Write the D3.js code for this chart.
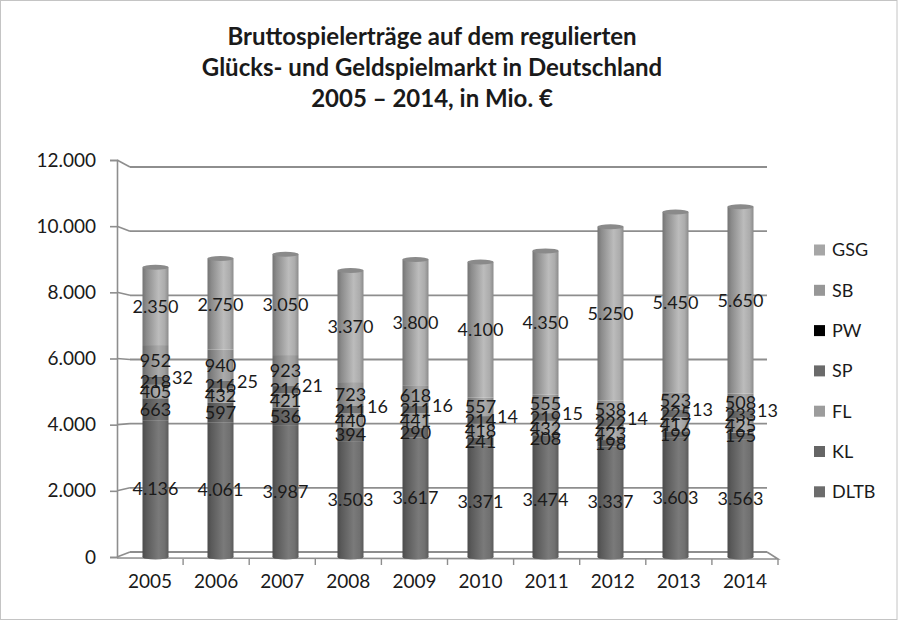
<!DOCTYPE html>
<html>
<head>
<meta charset="utf-8">
<script src="https://cdn.jsdelivr.net/npm/d3@7"></script>
<style>
  html, body { margin: 0; padding: 0; background: #fff; }
  svg { display: block; }
  text { font-family: Lato, "Open Sans", sans-serif; fill: #1a1a1a; }
</style>
</head>
<body>
<svg id="chart" width="903" height="621"></svg>
<script>
const years = ["2005","2006","2007","2008","2009","2010","2011","2012","2013","2014"];
// stacked from bottom to top
const seriesNames = ["DLTB","KL","FL","SP","PW","SB","GSG"];
const DLTB = [4136, 4061, 3987, 3503, 3617, 3371, 3474, 3337, 3603, 3563];
const KL   = [663, 597, 536, 394, 290, 241, 208, 198, 199, 195];
const FL   = [405, 432, 421, 440, 441, 418, 432, 423, 417, 425];
const SP   = [218, 216, 216, 211, 211, 214, 219, 222, 225, 233];
const PW   = [32, 25, 21, 16, 16, 14, 15, 14, 13, 13];
const SB   = [952, 940, 923, 723, 618, 557, 555, 538, 523, 508];
const GSG  = [2350, 2750, 3050, 3370, 3800, 4100, 4350, 5250, 5450, 5650];
const yTicks = [0, 2000, 4000, 6000, 8000, 10000, 12000];
const titleLines = ["Bruttospielerträge auf dem regulierten",
                    "Glücks- und Geldspielmarkt in Deutschland",
                    "2005 – 2014, in Mio. €"];
const legendOrder = ["GSG","SB","PW","SP","FL","KL","DLTB"];

const seriesValues = {DLTB, KL, FL, SP, PW, SB, GSG};
const colors = {GSG:"#a6a6a6", SB:"#979797", PW:"#000000", SP:"#6a6a6a", FL:"#9c9c9c", KL:"#656565", DLTB:"#6c6c6c"};

const de = d3.formatLocale({decimal: ",", thousands: ".", grouping: [3], currency: ["", "€"]});
const fmt = de.format(",d");

const svg = d3.select("#chart");

// frame
svg.append("rect").attr("x", 0.5).attr("y", 0.5).attr("width", 896.5).attr("height", 619)
  .attr("fill", "#fff").attr("stroke", "#c4c4c4").attr("stroke-width", 1);

// title
svg.append("g").selectAll("text").data(titleLines).join("text")
  .attr("x", 432).attr("y", (d, i) => 45 + i * 31)
  .attr("text-anchor", "middle")
  .style("font-size", "24px").style("font-weight", "bold")
  .text(d => d);

// scales
const yA = d3.scaleLinear().domain([0, 12000]).range([557, 160]);   // front axis
const yB = d3.scaleLinear().domain([0, 12000]).range([552, 167]);   // back wall
const xBar = d3.scaleBand().domain(years).range([123, 773]);
const xFront = d3.scaleBand().domain(years).range([117, 778]);
const barW = xBar.bandwidth() * 0.4;

const gridColor = "#8e8e8e";
const grid = svg.append("g");
// back wall gridlines & side wall diagonals
yTicks.forEach(v => {
  grid.append("line").attr("x1", 130).attr("x2", 767).attr("y1", yB(v)).attr("y2", yB(v))
    .attr("stroke", gridColor).attr("stroke-width", 1.8);
  grid.append("line").attr("x1", 117).attr("x2", 130).attr("y1", yA(v)).attr("y2", yB(v))
    .attr("stroke", gridColor).attr("stroke-width", 1.6);
});
// floor
grid.append("path")
  .attr("d", `M117,${yA(0)+1} L778,${yA(0)+2} L767,${yB(0)}`)
  .attr("fill", "none").attr("stroke", gridColor).attr("stroke-width", 1.6);

// y axis
const yAxis = d3.axisLeft(yA).tickValues(yTicks).tickSize(7).tickPadding(14)
  .tickFormat(d => fmt(d));
const gy = svg.append("g").attr("transform", "translate(117,0)").call(yAxis);
gy.select(".domain").attr("stroke", gridColor).attr("stroke-width", 1.6);
gy.selectAll(".tick line").attr("stroke", gridColor).attr("stroke-width", 1.6);
gy.selectAll(".tick text").style("font-size", "19px").style("font-family", "Lato, sans-serif").attr("fill", "#1a1a1a");

// x axis
const xAxis = d3.axisBottom(xFront).tickSize(0).tickPadding(16);
const gx = svg.append("g").attr("transform", `translate(0,${yA(0)+2})`).call(xAxis);
gx.select(".domain").remove();
gx.selectAll(".tick text").style("font-size", "19px").style("font-family", "Lato, sans-serif").attr("fill", "#1a1a1a");
// category boundary ticks
svg.append("g").selectAll("line").data(years.slice(1).concat(["end"])).join("line")
  .attr("x1", d => d === "end" ? 778 : xFront(d)).attr("x2", d => d === "end" ? 778 : xFront(d))
  .attr("y1", yA(0) + 2).attr("y2", yA(0) + 8)
  .attr("stroke", gridColor).attr("stroke-width", 1.4);

// gradients
const defs = svg.append("defs");
seriesNames.forEach(s => {
  const c = d3.color(colors[s]);
  const g = defs.append("linearGradient").attr("id", "g-" + s)
    .attr("x1", "0%").attr("x2", "100%").attr("y1", "0%").attr("y2", "0%");
  const stops = s === "PW"
    ? [[0, "#000"], [0.6, "#333"], [1, "#000"]]
    : [[0, c.darker(1.0)], [0.15, c.darker(0.5)], [0.62, c.brighter(0.35)], [0.85, c.brighter(0.1)], [1, c.darker(0.5)]];
  stops.forEach(([o, col]) => g.append("stop").attr("offset", o).attr("stop-color", col.toString()));
});

// stack
const table = years.map((y, i) => {
  const row = {year: y};
  seriesNames.forEach(s => row[s] = seriesValues[s][i]);
  return row;
});
const stack = d3.stack().keys(seriesNames)(table);

const bars = svg.append("g");
stack.forEach(layer => {
  bars.append("g").selectAll("rect").data(layer).join("rect")
    .attr("x", d => xBar(d.data.year) + xBar.bandwidth() / 2 - barW / 2)
    .attr("width", barW)
    .attr("y", d => yA(d[1]))
    .attr("height", d => yA(d[0]) - yA(d[1]))
    .attr("fill", `url(#g-${layer.key})`);
});
// bottom and top caps
const topLayer = stack[stack.length - 1];
bars.append("g").selectAll("ellipse").data(topLayer).join("ellipse")
  .attr("cx", d => xBar(d.data.year) + xBar.bandwidth() / 2)
  .attr("cy", d => yA(d[1]))
  .attr("rx", barW / 2).attr("ry", 2.5)
  .attr("fill", "#8a8a8a");
bars.append("g").selectAll("ellipse").data(stack[0]).join("ellipse")
  .attr("cx", d => xBar(d.data.year) + xBar.bandwidth() / 2)
  .attr("cy", d => yA(0))
  .attr("rx", barW / 2).attr("ry", 2.5)
  .attr("fill", `url(#g-DLTB)`);

// labels
const labels = svg.append("g");
stack.forEach(layer => {
  labels.append("g").selectAll("text").data(layer).join("text")
    .attr("x", d => xBar(d.data.year) + xBar.bandwidth() / 2 + (layer.key === "PW" ? 27 : 0))
    .attr("y", d => yA((d[0] + d[1]) / 2))
    .attr("dy", "0.36em")
    .attr("text-anchor", "middle")
    .style("font-size", "18px")
    .text(d => fmt(d[1] - d[0]));
});

// legend
const lg = svg.append("g");
legendOrder.forEach((s, i) => {
  const cy = 250 + i * 40.3;
  lg.append("rect").attr("x", 814).attr("y", cy - 5.5).attr("width", 11).attr("height", 11)
    .attr("fill", colors[s]);
  lg.append("text").attr("x", 832).attr("y", cy).attr("dy", "0.36em")
    .style("font-size", "18px").text(s);
});
</script>
</body>
</html>
